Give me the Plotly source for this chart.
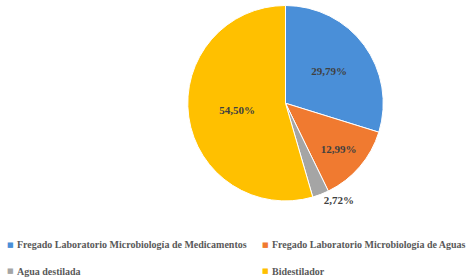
import plotly.graph_objects as go

labels = ["Fregado Laboratorio Microbiología de Medicamentos",
          "Fregado Laboratorio Microbiología de Aguas",
          "Agua destilada",
          "Bidestilador"]
values = [29.79, 12.99, 2.72, 54.50]
colors = ["#4a8fd8", "#f07a30", "#a5a5a5", "#ffc000"]

texts = [f"{v:.2f}%".replace(".", ",") for v in values]

W, H = 476, 280
cx, cy, r = 285.5, 100, 99.5

fig = go.Figure(go.Pie(
    labels=labels, values=values, text=texts, textinfo="text",
    sort=False, direction="clockwise", rotation=0,
    marker=dict(colors=colors, line=dict(color="white", width=1)),
    textposition=["inside", "inside", "outside", "inside"],
    insidetextorientation="horizontal",
    textfont=dict(family="Liberation Serif", size=11, color="#404040", weight="bold"),
    domain=dict(x=[(cx - r) / W, (cx + r) / W], y=[1 - (cy + r) / H, 1 - (cy - r) / H]),
    showlegend=False,
))

# legend built from labels
legend_pos = [(10, 244), (265, 244), (10, 271), (265, 271)]
for (lx, ly), lab, col in zip(legend_pos, labels, colors):
    fig.add_annotation(x=lx / W, y=1 - ly / H, xref="paper", yref="paper",
                       text="■", showarrow=False, xanchor="center", yanchor="middle",
                       font=dict(size=7, color=col, family="DejaVu Sans"))
    fig.add_annotation(x=(lx + 5) / W, y=1 - ly / H, xref="paper", yref="paper",
                       text=lab, showarrow=False, xanchor="left", yanchor="middle",
                       font=dict(size=10, color="#595959", family="Liberation Serif", weight="bold"))

fig.update_layout(width=W, height=H, margin=dict(l=0, r=0, t=0, b=0),
                  paper_bgcolor="white", plot_bgcolor="white")
fig.write_html("out.html", config={"displayModeBar": False},
               post_script="document.body.style.margin='0';document.body.style.overflow='hidden';")
